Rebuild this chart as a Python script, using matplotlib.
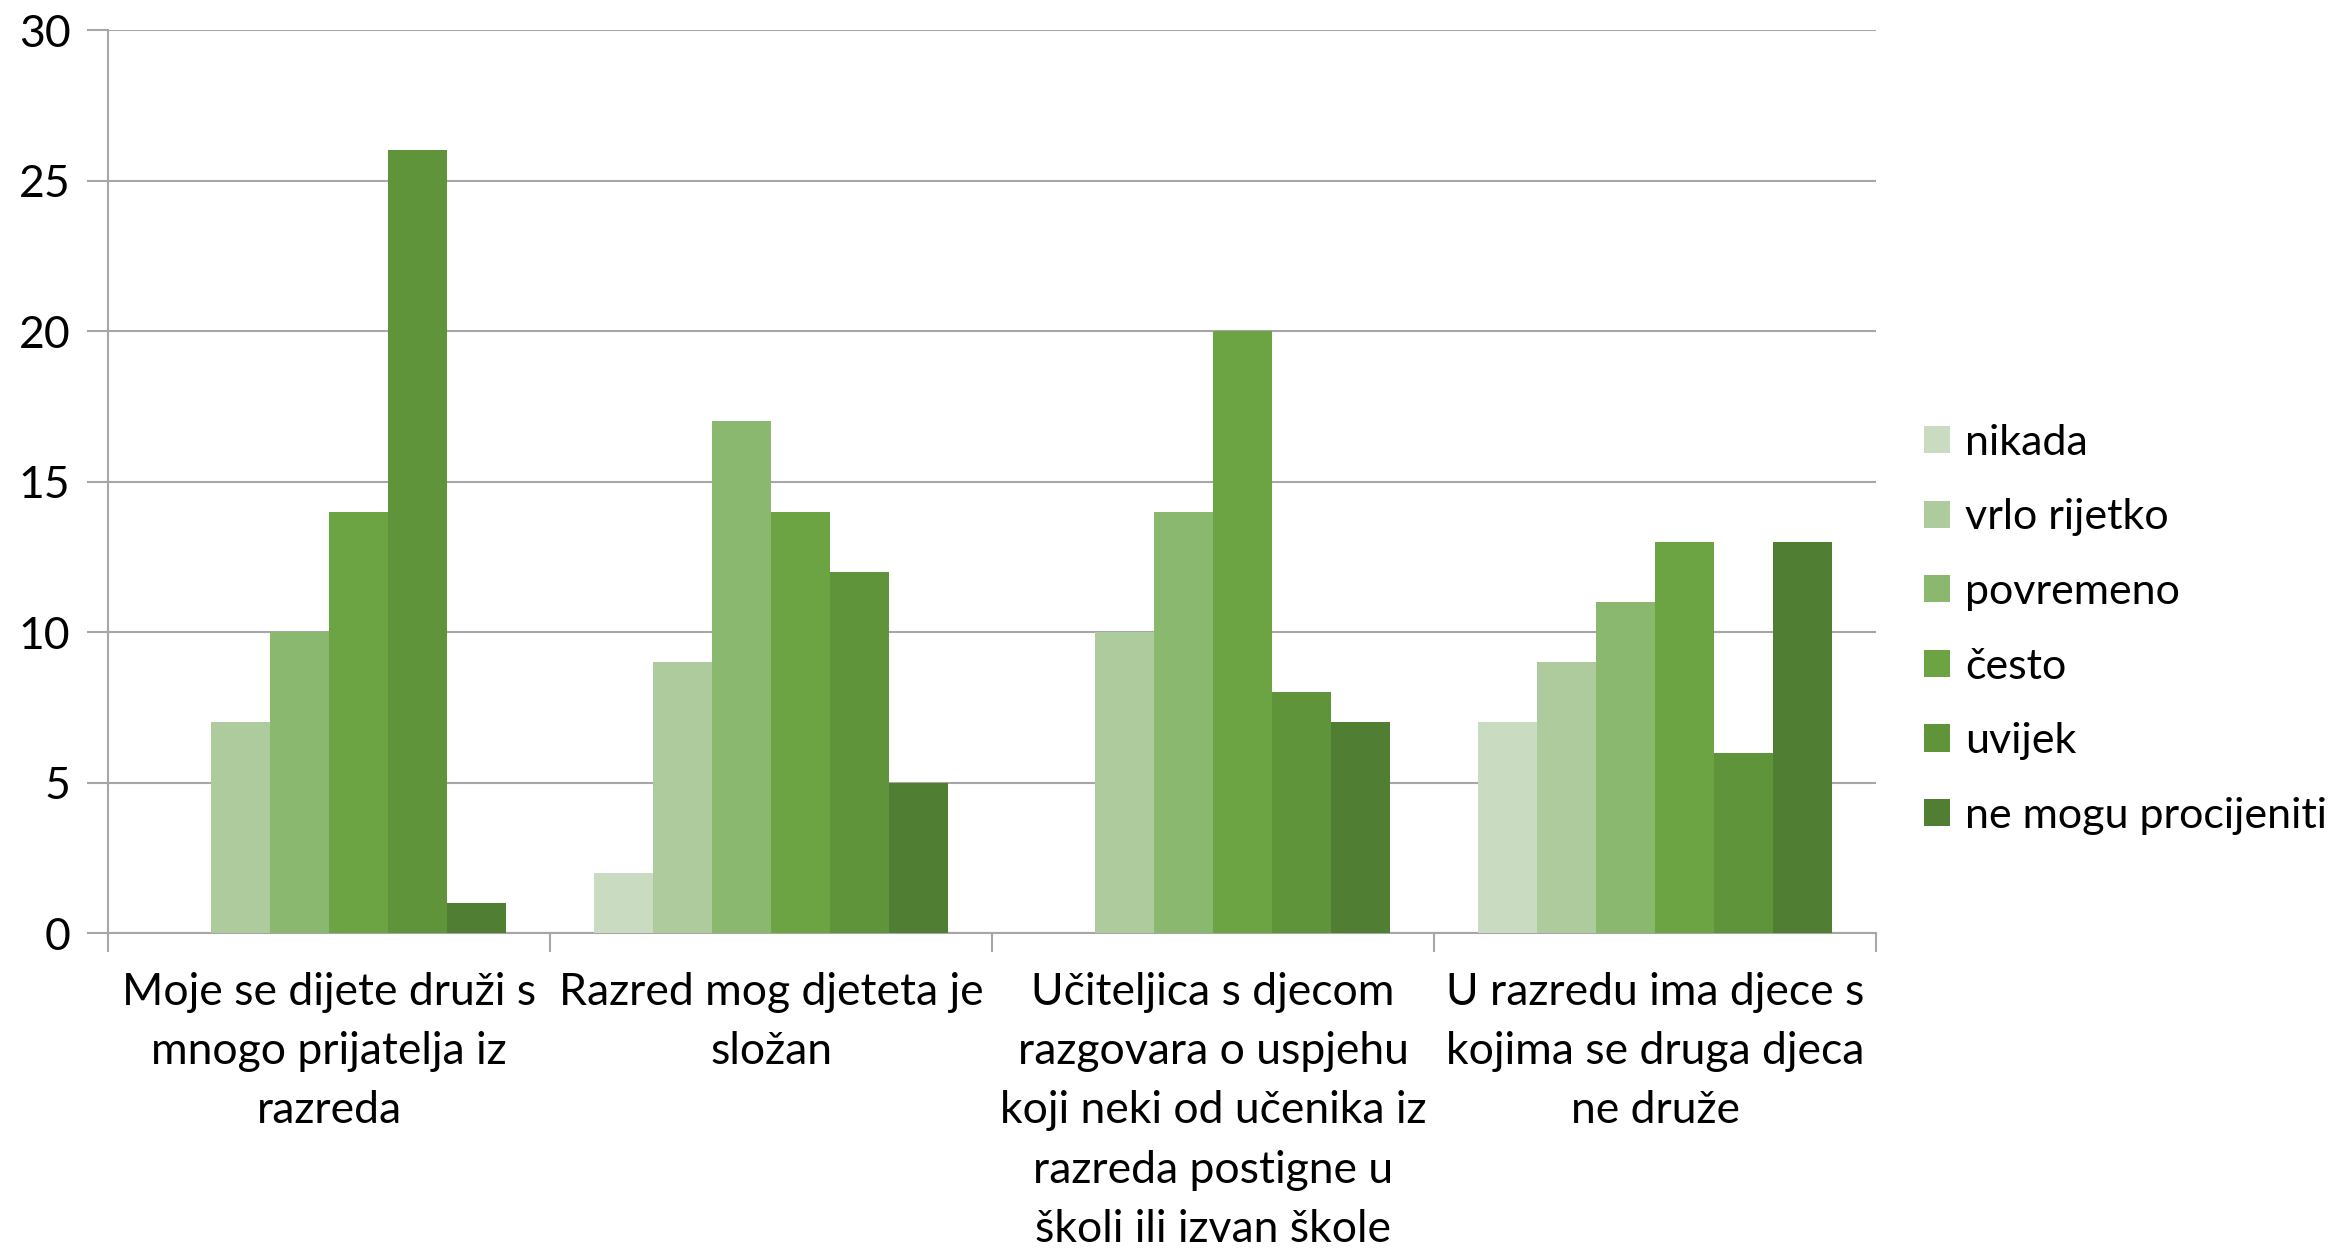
import numpy as np
import matplotlib
matplotlib.use("Agg")
import matplotlib.pyplot as plt

# --- data ---
categories = [
    "Moje se dijete druži s\nmnogo prijatelja iz\nrazreda",
    "Razred mog djeteta je\nsložan",
    "Učiteljica s djecom\nrazgovara o uspjehu\nkoji neki od učenika iz\nrazreda postigne u\nškoli ili izvan škole",
    "U razredu ima djece s\nkojima se druga djeca\nne druže",
]
series_names = ["nikada", "vrlo rijetko", "povremeno", "često", "uvijek", "ne mogu procijeniti"]
nikada = [0, 2, 0, 7]
vrlo_rijetko = [7, 9, 10, 9]
povremeno = [10, 17, 14, 11]
cesto = [14, 14, 20, 13]
uvijek = [26, 12, 8, 6]
ne_mogu = [1, 5, 7, 13]
colors = ["#C9DBC1", "#AECB9E", "#8AB86F", "#6CA443", "#60943A", "#507E32"]
# -------------

plt.rcParams['font.family'] = ['Lato', 'DejaVu Sans']
fig = plt.figure(figsize=(23.48, 12.51), dpi=100)
ax = fig.add_axes([0.046, 0.254, 0.753, 0.722])

values = [nikada, vrlo_rijetko, povremeno, cesto, uvijek, ne_mogu]
n = len(values)
width = 0.8 / n
x = np.arange(len(categories))
for i, (name, vals) in enumerate(zip(series_names, values)):
    ax.bar(x - 0.4 + width * (i + 0.5), vals, width, color=colors[i], label=name,
           edgecolor="none", zorder=3)

ax.set_xlim(-0.5, len(categories) - 0.5)
ax.set_ylim(0, 30)
ax.set_yticks(range(0, 31, 5))
ax.yaxis.grid(True, color="#A6A6A6", linewidth=1.5, zorder=0)
ax.tick_params(axis="y", labelsize=32, length=15, width=1.5, color="#A6A6A6", pad=12)

ax.set_xticks(x)
ax.set_xticklabels(categories, fontsize=32, linespacing=1.55)
ax.tick_params(axis="x", which="major", length=0, pad=28)
ax.set_xticks(np.arange(-0.5, len(categories), 1.0), minor=True)
ax.tick_params(axis="x", which="minor", length=14, width=1.5, color="#A6A6A6")

for s in ["top", "right"]:
    ax.spines[s].set_visible(False)
for s in ["left", "bottom"]:
    ax.spines[s].set_color("#A6A6A6")
    ax.spines[s].set_linewidth(1.5)

leg = fig.legend(loc="center left", bbox_to_anchor=(0.803, 0.497), frameon=False,
                 fontsize=31, handlelength=0.6, handleheight=0.6, handletextpad=0.35,
                 labelspacing=0.85)

fig.savefig("out.png", dpi=100)
